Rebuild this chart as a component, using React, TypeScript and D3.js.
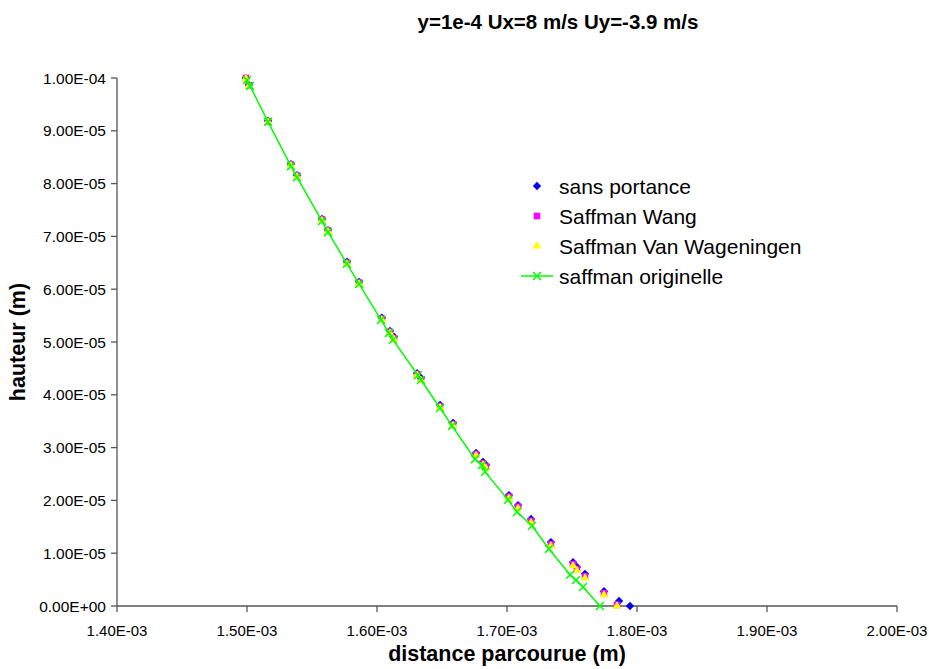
import React from "react";
import * as d3 from "d3";

// distance (m) and hauteur (m)
const sansX = [1.4992e-3, 1.5015e-3, 1.5162e-3, 1.5338e-3, 1.5385e-3, 1.5577e-3, 1.5623e-3, 1.5769e-3, 1.5862e-3, 1.6038e-3, 1.61e-3, 1.6131e-3, 1.6308e-3, 1.6338e-3, 1.6485e-3, 1.6585e-3, 1.6762e-3, 1.6815e-3, 1.6838e-3, 1.7015e-3, 1.7085e-3, 1.7185e-3, 1.7338e-3, 1.7508e-3, 1.7538e-3, 1.76e-3, 1.7746e-3, 1.7862e-3, 1.7946e-3];
const sansY = [1.0e-4, 9.87e-5, 9.19e-5, 8.37e-5, 8.16e-5, 7.33e-5, 7.12e-5, 6.52e-5, 6.14e-5, 5.46e-5, 5.21e-5, 5.1e-5, 4.41e-5, 4.32e-5, 3.81e-5, 3.47e-5, 2.9e-5, 2.73e-5, 2.67e-5, 2.1e-5, 1.91e-5, 1.65e-5, 1.21e-5, 8.3e-6, 7.4e-6, 6.1e-6, 2.8e-6, 9.5e-7, 0];
const wangX = [1.4992e-3, 1.5015e-3, 1.5162e-3, 1.5338e-3, 1.5385e-3, 1.5577e-3, 1.5623e-3, 1.5769e-3, 1.5862e-3, 1.6038e-3, 1.61e-3, 1.6131e-3, 1.6308e-3, 1.6338e-3, 1.6485e-3, 1.6585e-3, 1.6762e-3, 1.6815e-3, 1.6838e-3, 1.7015e-3, 1.7085e-3, 1.7185e-3, 1.7338e-3, 1.7508e-3, 1.7538e-3, 1.76e-3, 1.7746e-3, 1.7846e-3];
const wangY = [1.0e-4, 9.86e-5, 9.18e-5, 8.36e-5, 8.15e-5, 7.32e-5, 7.11e-5, 6.5e-5, 6.12e-5, 5.44e-5, 5.19e-5, 5.07e-5, 4.39e-5, 4.29e-5, 3.78e-5, 3.44e-5, 2.87e-5, 2.7e-5, 2.64e-5, 2.07e-5, 1.88e-5, 1.61e-5, 1.17e-5, 7.9e-6, 7.0e-6, 5.6e-6, 2.4e-6, 2.0e-7];
const vwX = [1.4992e-3, 1.5015e-3, 1.5162e-3, 1.5338e-3, 1.5385e-3, 1.5577e-3, 1.5623e-3, 1.5769e-3, 1.5862e-3, 1.6038e-3, 1.61e-3, 1.6131e-3, 1.6308e-3, 1.6338e-3, 1.6485e-3, 1.6585e-3, 1.6762e-3, 1.6815e-3, 1.6838e-3, 1.7015e-3, 1.7085e-3, 1.7185e-3, 1.7338e-3, 1.7508e-3, 1.7538e-3, 1.76e-3, 1.7746e-3, 1.7846e-3];
const vwY = [9.99e-5, 9.85e-5, 9.17e-5, 8.34e-5, 8.13e-5, 7.3e-5, 7.09e-5, 6.48e-5, 6.1e-5, 5.42e-5, 5.17e-5, 5.05e-5, 4.37e-5, 4.27e-5, 3.76e-5, 3.42e-5, 2.85e-5, 2.67e-5, 2.61e-5, 2.04e-5, 1.85e-5, 1.58e-5, 1.14e-5, 7.6e-6, 6.7e-6, 5.3e-6, 2.1e-6, 0];
const origX = [1.5e-3, 1.5023e-3, 1.5162e-3, 1.5338e-3, 1.5385e-3, 1.5577e-3, 1.5623e-3, 1.5769e-3, 1.5862e-3, 1.6031e-3, 1.6092e-3, 1.6123e-3, 1.6315e-3, 1.6338e-3, 1.6485e-3, 1.6577e-3, 1.6754e-3, 1.6808e-3, 1.6831e-3, 1.7008e-3, 1.7077e-3, 1.7192e-3, 1.7323e-3, 1.7485e-3, 1.7531e-3, 1.7585e-3, 1.7715e-3];
const origY = [9.96e-5, 9.85e-5, 9.17e-5, 8.33e-5, 8.12e-5, 7.29e-5, 7.08e-5, 6.48e-5, 6.1e-5, 5.42e-5, 5.17e-5, 5.04e-5, 4.37e-5, 4.28e-5, 3.75e-5, 3.41e-5, 2.78e-5, 2.67e-5, 2.54e-5, 2.01e-5, 1.78e-5, 1.52e-5, 1.08e-5, 5.9e-6, 4.9e-6, 3.6e-6, 0];

const xTicks = [1.4e-3, 1.5e-3, 1.6e-3, 1.7e-3, 1.8e-3, 1.9e-3, 2.0e-3];
const yTicks = [0, 1e-5, 2e-5, 3e-5, 4e-5, 5e-5, 6e-5, 7e-5, 8e-5, 9e-5, 1e-4];
const xTickLabels = ["1.40E-03", "1.50E-03", "1.60E-03", "1.70E-03", "1.80E-03", "1.90E-03", "2.00E-03"];
const yTickLabels = ["0.00E+00", "1.00E-05", "2.00E-05", "3.00E-05", "4.00E-05", "5.00E-05", "6.00E-05", "7.00E-05", "8.00E-05", "9.00E-05", "1.00E-04"];
const seriesNames = ["sans portance", "Saffman Wang", "Saffman Van Wageningen", "saffman originelle"];

const FONT = "'Liberation Sans', Arial, sans-serif";

export default function App() {
  const x = d3.scaleLinear().domain([1.4e-3, 2.0e-3]).range([117, 897]);
  const y = d3.scaleLinear().domain([0, 1e-4]).range([606, 78]);
  const diamond = d3.symbol().type(d3.symbolDiamond2).size(44)();
  const square = d3.symbol().type(d3.symbolSquare).size(44)();
  const triangle = d3.symbol().type(d3.symbolTriangle2).size(52)();
  const cross = d3.symbol().type(d3.symbolX).size(42)();
  const line = d3.line<number>().x((_, i) => x(origX[i])).y((_, i) => y(origY[i]));

  const legendX = 537;
  const legendTextX = 559;
  const legendY = [186, 216, 246, 276];

  return (
    <svg width={929} height={669} style={{ position: "absolute", left: 0, top: 0, background: "#fff" }} fontFamily={FONT}>
      <rect x={0} y={0} width={929} height={669} fill="#fff" />
      <text x={558} y={29} textAnchor="middle" fontSize={20.5} fontWeight="bold">y=1e-4 Ux=8 m/s Uy=-3.9 m/s</text>

      {/* axes */}
      <line x1={x(1.4e-3)} x2={x(2.0e-3)} y1={y(0)} y2={y(0)} stroke="#555" strokeWidth={1.3} />
      <line x1={x(1.4e-3)} x2={x(1.4e-3)} y1={y(0)} y2={y(1e-4)} stroke="#555" strokeWidth={1.3} />
      {xTicks.map((t, i) => (
        <g key={"xt" + i}>
          <line x1={x(t)} x2={x(t)} y1={y(0)} y2={y(0) + 6} stroke="#555" strokeWidth={1.3} />
          <text x={x(t)} y={y(0) + 30} textAnchor="middle" fontSize={15}>{xTickLabels[i]}</text>
        </g>
      ))}
      {yTicks.map((t, i) => (
        <g key={"yt" + i}>
          <line x1={x(1.4e-3) - 6} x2={x(1.4e-3)} y1={y(t)} y2={y(t)} stroke="#555" strokeWidth={1.3} />
          <text x={x(1.4e-3) - 11} y={y(t) + 5.5} textAnchor="end" fontSize={15.5}>{yTickLabels[i]}</text>
        </g>
      ))}
      <text x={507} y={661} textAnchor="middle" fontSize={21.5} fontWeight="bold">distance parcourue (m)</text>
      <text transform={`translate(25,342) rotate(-90)`} textAnchor="middle" fontSize={21.5} fontWeight="bold">hauteur (m)</text>

      {/* series */}
      {sansX.map((v, i) => (
        <path key={"s" + i} d={diamond} transform={`translate(${x(v)},${y(sansY[i])})`} fill="#0000ff" />
      ))}
      {wangX.map((v, i) => (
        <path key={"w" + i} d={square} transform={`translate(${x(v)},${y(wangY[i])})`} fill="#ff00ff" />
      ))}
      {vwX.map((v, i) => (
        <path key={"v" + i} d={triangle} transform={`translate(${x(v)},${y(vwY[i])})`} fill="#ffff00" />
      ))}
      <path d={line(origX) || ""} fill="none" stroke="#00ff00" strokeWidth={1.5} />
      {origX.map((v, i) => (
        <path key={"o" + i} d={cross} transform={`translate(${x(v)},${y(origY[i])})`} fill="none" stroke="#00ff00" strokeWidth={1.5} />
      ))}

      {/* legend */}
      <path d={diamond} transform={`translate(${legendX},${legendY[0]})`} fill="#0000ff" />
      <path d={square} transform={`translate(${legendX},${legendY[1]})`} fill="#ff00ff" />
      <path d={triangle} transform={`translate(${legendX},${legendY[2]})`} fill="#ffff00" />
      <line x1={legendX - 16} x2={legendX + 16} y1={legendY[3]} y2={legendY[3]} stroke="#00ff00" strokeWidth={1.5} />
      <path d={cross} transform={`translate(${legendX},${legendY[3]})`} fill="none" stroke="#00ff00" strokeWidth={1.5} />
      {seriesNames.map((n, i) => (
        <text key={"l" + i} x={legendTextX} y={legendY[i] + 7.5} fontSize={21}>{n}</text>
      ))}
    </svg>
  );
}
